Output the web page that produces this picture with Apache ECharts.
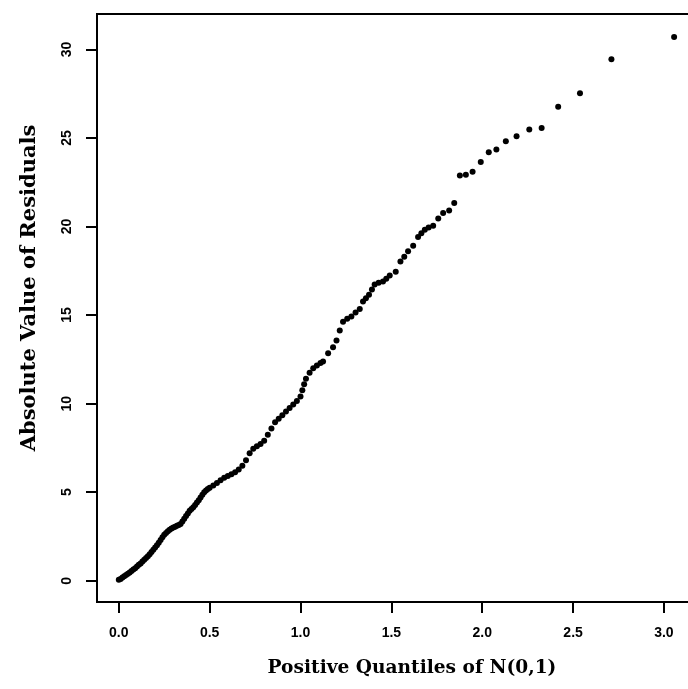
<!DOCTYPE html>
<html>
<head>
<meta charset="utf-8">
<script src="https://cdn.jsdelivr.net/npm/echarts@6/dist/echarts.min.js"></script>
<style>
html,body{margin:0;padding:0;background:#fff;}
#chart{width:688px;height:689px;}
</style>
</head>
<body>
<div id="chart"></div>
<script>
// Positive quantiles of N(0,1) (x) and absolute residuals (y)
var quantiles = [
0.00,0.01,0.02,0.03,0.04,0.05,0.06,0.07,0.08,0.09,
0.10,0.11,0.12,0.13,0.14,0.15,0.16,0.17,0.18,0.19,
0.20,0.21,0.22,0.23,0.24,0.25,0.26,0.27,0.28,0.29,
0.30,0.31,0.32,0.33,0.34,0.35,0.36,0.37,0.38,0.39,
0.40,0.41,0.42,0.43,0.44,0.45,0.46,0.47,0.48,0.49,
0.50,0.52,0.54,0.56,0.58,0.60,0.62,0.64,0.66,0.68,
0.70,0.72,0.74,0.76,0.78,0.80,0.82,0.84,0.86,0.88,
0.90,0.92,0.94,0.96,0.98,1.00,1.01,1.02,1.03,1.05,
1.07,1.09,1.11,1.124,1.152,1.179,1.198,1.216,1.234,1.257,
1.28,1.303,1.326,1.344,1.36,1.377,1.393,1.408,1.43,1.454,
1.472,1.491,1.524,1.55,1.571,1.592,1.62,1.647,1.665,1.684,
1.705,1.73,1.758,1.785,1.818,1.846,1.877,1.91,1.947,1.992,
2.036,2.078,2.13,2.189,2.259,2.327,2.418,2.538,2.711,3.056
];
var absResiduals = [
0.05,0.10,0.18,0.25,0.32,0.40,0.47,0.55,0.63,0.70,
0.80,0.90,0.98,1.08,1.18,1.28,1.38,1.50,1.62,1.75,
1.88,2.00,2.15,2.30,2.45,2.60,2.70,2.80,2.88,2.95,
3.00,3.05,3.10,3.15,3.20,3.35,3.50,3.65,3.80,3.95,
4.05,4.15,4.28,4.42,4.55,4.70,4.85,5.00,5.10,5.18,
5.25,5.38,5.52,5.68,5.82,5.92,6.02,6.12,6.28,6.50,
6.80,7.20,7.45,7.60,7.72,7.90,8.25,8.60,8.95,9.15,
9.35,9.55,9.75,9.95,10.15,10.40,10.75,11.10,11.40,11.75,
12.00,12.15,12.30,12.38,12.85,13.19,13.57,14.13,14.62,14.80,
14.92,15.15,15.34,15.77,15.95,16.15,16.45,16.72,16.82,16.90,
17.05,17.24,17.45,18.03,18.30,18.60,18.92,19.41,19.62,19.82,
19.95,20.05,20.45,20.77,20.90,21.33,22.88,22.93,23.10,23.65,
24.20,24.35,24.82,25.10,25.48,25.57,26.76,27.53,29.45,30.70
];
var xTicks = [0.0,0.5,1.0,1.5,2.0,2.5,3.0];
var yTicks = [0,5,10,15,20,25,30];

var pts = quantiles.map(function(q,i){return [q, absResiduals[i]];});

// plot frame geometry (grid 0) and its data range
var W = 688, H = 689;
var L = 97, R = 693, T = 14, B = 602;
var xMin = -0.12, xMax = 3.16, yMin = -1.2, yMax = 32.0;
var sx = (R - L) / (xMax - xMin), sy = (B - T) / (yMax - yMin);
// helper grids whose axes start exactly at 0 so interval ticks land on 0, 0.5, ... / 0, 5, ...
var x0px = L + (0 - xMin) * sx, xEndPx = x0px + 3.5 * sx;
var y0px = B - (0 - yMin) * sy, yEndPx = y0px - 35 * sy;

var chart = echarts.init(document.getElementById('chart'), null, {renderer:'canvas'});
var tickStyle = {show:true, inside:false, length:11, lineStyle:{color:'#000', width:2}};
var hiddenX = function(g){return {gridIndex:g, type:'value', show:false, min:0, max:1};};
var hiddenY = function(g){return {gridIndex:g, type:'value', show:false, min:0, max:1};};
chart.setOption({
  animation:false,
  backgroundColor:'#fff',
  grid:[
    {left:L, right:W - R, top:T, bottom:H - B, outerBoundsMode:'none', containLabel:false,
     show:true, borderColor:'#000', borderWidth:2, backgroundColor:'transparent'},
    // strip whose bottom edge is the frame's bottom: x ticks hang down from it
    {left:x0px, right:W - xEndPx, top:B - 30, bottom:H - B, outerBoundsMode:'none', containLabel:false, show:false},
    // strip whose left edge is the frame's left: y ticks stick out from it
    {left:L, right:W - L - 30, top:yEndPx, bottom:H - y0px, outerBoundsMode:'none', containLabel:false, show:false}
  ],
  xAxis:[{
    gridIndex:0, type:'value', min:xMin, max:xMax,
    axisLine:{show:false, onZero:false}, axisTick:{show:false}, splitLine:{show:false},
    axisLabel:{
      show:true, margin:24, color:'#000', fontFamily:'Liberation Sans', fontWeight:'bold', fontSize:14,
      customValues:xTicks,
      formatter:function(v){return v.toFixed(1);}
    }
  },{
    gridIndex:1, type:'value', min:0, max:3.5, interval:0.5,
    axisLine:{show:false}, axisTick:tickStyle, axisLabel:{show:false}, splitLine:{show:false}
  }, hiddenX(2)],
  yAxis:[{
    gridIndex:0, type:'value', min:yMin, max:yMax,
    axisLine:{show:false, onZero:false}, axisTick:{show:false}, splitLine:{show:false},
    axisLabel:{
      show:true, margin:23, rotate:90, color:'#000', fontFamily:'Liberation Sans', fontWeight:'bold', fontSize:14,
      customValues:yTicks,
      formatter:function(v){return String(v);}
    }
  }, hiddenY(1), {
    gridIndex:2, type:'value', min:0, max:35, interval:5,
    axisLine:{show:false}, axisTick:tickStyle, axisLabel:{show:false}, splitLine:{show:false}
  }],
  series:[{
    type:'scatter', xAxisIndex:0, yAxisIndex:0, data:pts, symbol:'circle', symbolSize:6,
    itemStyle:{color:'#000', opacity:1}, clip:false
  }],
  graphic:[
    {type:'text', x:412, y:668,
      style:{text:'Positive Quantiles of N(0,1)', fill:'#000',
      font:'bold 18.6px "DejaVu Serif"', textAlign:'center', textVerticalAlign:'middle'}},
    {type:'text', rotation:Math.PI/2, x:30, y:288,
      style:{text:'Absolute Value of Residuals', fill:'#000', font:'bold 21px "DejaVu Serif"',
      textAlign:'center', textVerticalAlign:'middle'}}
  ]
});
</script>
</body>
</html>
